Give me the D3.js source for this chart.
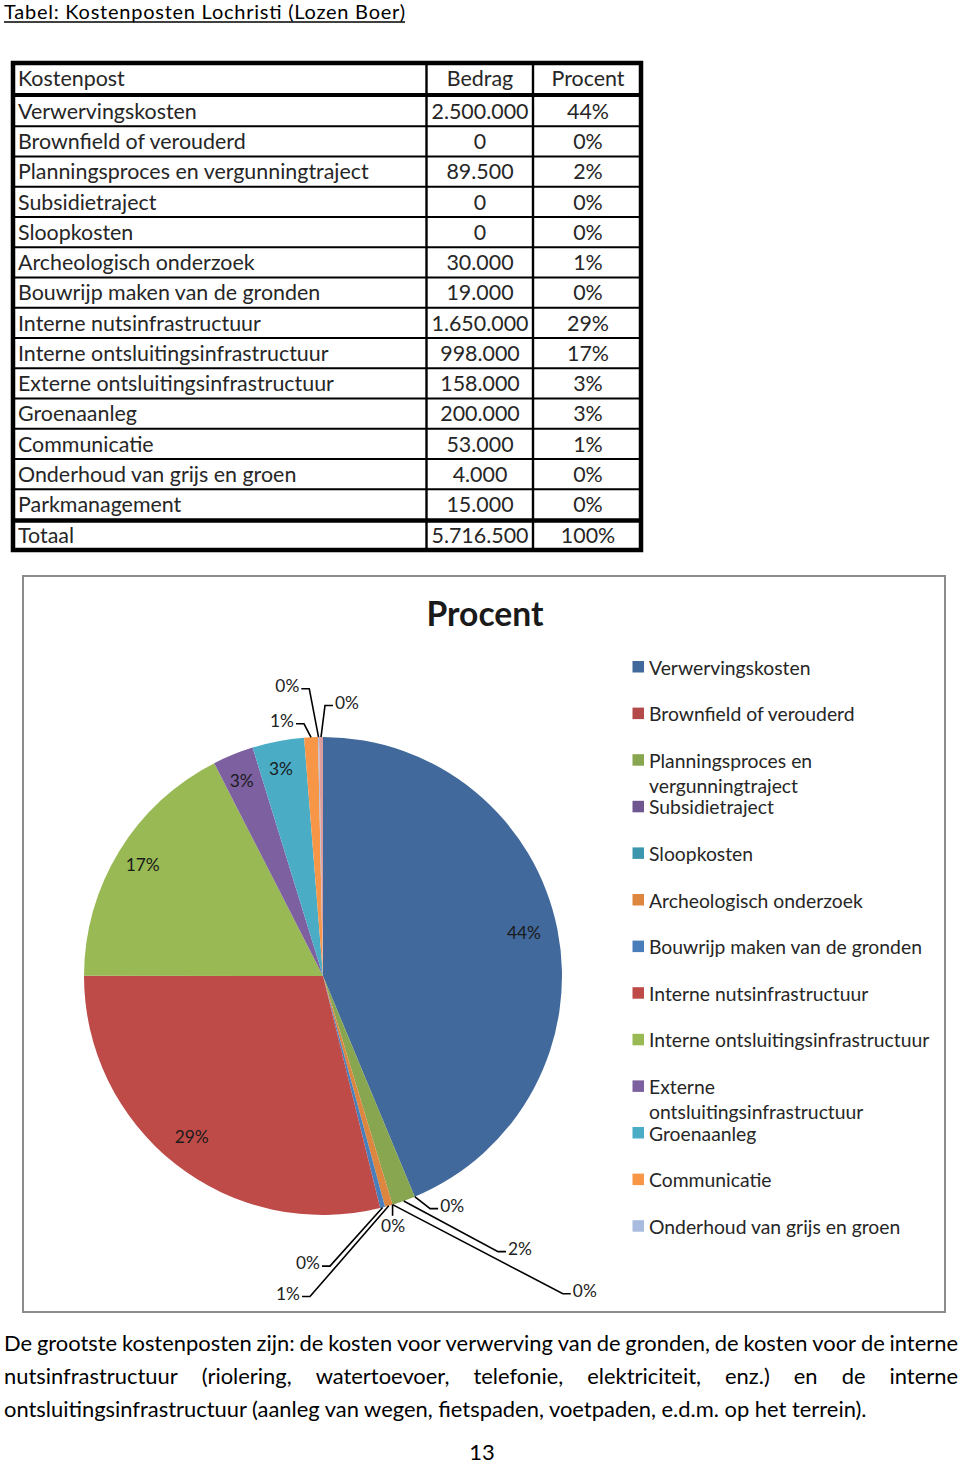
<!DOCTYPE html>
<html><head><meta charset="utf-8">
<script src="https://cdn.jsdelivr.net/npm/d3@7"></script>
<style>body{margin:0;background:#fff}svg{display:block}</style>
</head><body>
<script>
// ---------- DATA ----------
const categories = ["Verwervingskosten","Brownfield of verouderd","Planningsproces en vergunningtraject","Subsidietraject","Sloopkosten","Archeologisch onderzoek","Bouwrijp maken van de gronden","Interne nutsinfrastructuur","Interne ontsluitingsinfrastructuur","Externe ontsluitingsinfrastructuur","Groenaanleg","Communicatie","Onderhoud van grijs en groen","Parkmanagement"];
const bedrag = [2500000,0,89500,0,0,30000,19000,1650000,998000,158000,200000,53000,4000,15000];
const procent = [44,0,2,0,0,1,0,29,17,3,3,1,0,0];
const totaalLabel = "Totaal";
const totaalBedrag = 5716500;
const totaalProcent = 100;
const tableHeaders = ["Kostenpost","Bedrag","Procent"];
const pageTitle = "Tabel: Kostenposten Lochristi (Lozen Boer)";
const chartTitle = "Procent";
const paragraphLines = [
  "De grootste kostenposten zijn: de kosten voor verwerving van de gronden, de kosten voor de interne",
  "nutsinfrastructuur (riolering, watertoevoer, telefonie, elektriciteit, enz.) en de interne",
  "ontsluitingsinfrastructuur (aanleg van wegen, fietspaden, voetpaden, e.d.m. op het terrein)."
];
const pageNumber = "13";

// ---------- STYLE / LAYOUT ----------
const sliceColors = ["#41699b","#b4494a","#88a54f","#6f5690","#3c97ae","#dd8640","#4a7ebb","#be4b48","#98b954","#7d60a0","#4bacc6","#f79646","#a9bbdf","#dc9e9c"];
// outside label placement (polar: degrees clockwise from top, distance from centre)
const outsideLabels = {1:[150.6,263],2:[144.1,336],3:[140.2,409],4:[164.3,259],5:[186.3,319],6:[183.0,287],11:[350.9,259],12:[353.0,293],13:[5.0,275]};
const legendShown = 13;
const FONT = "Lato, 'Open Sans', sans-serif";

const W = 960, H = 1466;
const svg = d3.select("body").append("svg").attr("width", W).attr("height", H)
  .style("font-family", FONT);

function measure(txt, fs, weight) {
  const t = svg.append("text").attr("font-size", fs).attr("font-weight", weight || "normal").text(txt);
  const w = t.node().getComputedTextLength(); t.remove(); return w;
}
function fitSize(txt, target, weight) { return 20 * target / measure(txt, 20, weight); }

// ---------- PAGE TITLE ----------
const tfs = Math.min(20, fitSize(pageTitle, 401));
svg.append("text").attr("x", 4).attr("y", 19).attr("font-size", tfs).attr("fill", "#000")
  .attr("textLength", 401).attr("lengthAdjust", "spacing").text(pageTitle);
svg.append("line").attr("x1", 4).attr("x2", 405).attr("y1", 22).attr("y2", 22).attr("stroke", "#000").attr("stroke-width", 1.3);

// ---------- TABLE ----------
const fmt = d3.formatLocale({decimal: ",", thousands: ".", grouping: [3], currency: ["€",""]}).format(",d");
const rowScale = d3.scaleBand().domain(d3.range(categories.length)).range([96, 519.5]);
const colX = {left: 13, c1: 426.5, c2: 533, right: 641};
const tableFs = fitSize("Planningsproces en vergunningtraject", 351);
const tg = svg.append("g").attr("fill", "#262626").attr("font-size", tableFs);

// grid lines
tg.selectAll("line.row").data(d3.range(1, categories.length)).join("line")
  .attr("x1", colX.left).attr("x2", colX.right)
  .attr("y1", d => rowScale(d)).attr("y2", d => rowScale(d))
  .attr("stroke", "#000").attr("stroke-width", 2.2);
tg.append("line").attr("x1", colX.left).attr("x2", colX.right).attr("y1", 95).attr("y2", 95).attr("stroke", "#000").attr("stroke-width", 4);
tg.append("line").attr("x1", colX.left).attr("x2", colX.right).attr("y1", 520.5).attr("y2", 520.5).attr("stroke", "#000").attr("stroke-width", 4.5);
[colX.c1, colX.c2].forEach(x => tg.append("line").attr("x1", x).attr("x2", x).attr("y1", 63).attr("y2", 550).attr("stroke", "#000").attr("stroke-width", 2.4));
tg.append("rect").attr("x", 13).attr("y", 63).attr("width", 628).attr("height", 487)
  .attr("fill", "none").attr("stroke", "#000").attr("stroke-width", 4.5);

const textDy = tableFs * 0.36;
tg.append("text").attr("x", 18).attr("y", 78 + textDy).text(tableHeaders[0]);
tg.append("text").attr("x", 480).attr("y", 78 + textDy).attr("text-anchor", "middle").text(tableHeaders[1]);
tg.append("text").attr("x", 588).attr("y", 78 + textDy).attr("text-anchor", "middle").text(tableHeaders[2]);
const rows = tg.selectAll("g.r").data(categories.map((c, i) => ({c, b: bedrag[i], p: procent[i], i}))).join("g")
  .attr("transform", d => `translate(0,${rowScale(d.i) + rowScale.bandwidth()/2 + textDy})`);
rows.append("text").attr("x", 18).text(d => d.c);
rows.append("text").attr("x", 480).attr("text-anchor", "middle").text(d => fmt(d.b));
rows.append("text").attr("x", 588).attr("text-anchor", "middle").text(d => d.p + "%");
tg.append("text").attr("x", 18).attr("y", 535 + textDy).text(totaalLabel);
tg.append("text").attr("x", 480).attr("y", 535 + textDy).attr("text-anchor", "middle").text(fmt(totaalBedrag));
tg.append("text").attr("x", 588).attr("y", 535 + textDy).attr("text-anchor", "middle").text(totaalProcent + "%");

// ---------- CHART FRAME ----------
svg.append("rect").attr("x", 23).attr("y", 576).attr("width", 922).attr("height", 736)
  .attr("fill", "#fff").attr("stroke", "#8c8c8c").attr("stroke-width", 2);
const ctfs = fitSize(chartTitle, 117, "bold");
svg.append("text").attr("x", 485).attr("y", 626).attr("text-anchor", "middle").attr("font-weight", "bold")
  .attr("font-size", ctfs).attr("fill", "#1a1a1a").text(chartTitle);

// ---------- PIE ----------
const cx = 323, cy = 976, R = 239;
const data = categories.map((c, i) => ({c, v: bedrag[i], p: procent[i], i}));
const pie = d3.pie().value(d => d.v).sort(null).startAngle(0).endAngle(2 * Math.PI);
const arcs = pie(data);
const arc = d3.arc().innerRadius(0).outerRadius(R);
const color = d3.scaleOrdinal().domain(d3.range(categories.length)).range(sliceColors);
const pg = svg.append("g").attr("transform", `translate(${cx},${cy})`);
pg.selectAll("path").data(arcs).join("path").attr("d", arc).attr("fill", d => color(d.data.i));

const lblFs = fitSize("44%", 34);
const polar = (a, r) => [r * Math.sin(a), -r * Math.cos(a)];
pg.selectAll("text.in").data(arcs.filter(d => !(d.data.i in outsideLabels))).join("text")
  .attr("font-size", lblFs).attr("fill", "#1a1a1a").attr("text-anchor", "middle").attr("dominant-baseline", "central")
  .attr("x", d => polar((d.startAngle + d.endAngle) / 2, R * 0.87)[0] - 3)
  .attr("y", d => polar((d.startAngle + d.endAngle) / 2, R * 0.87)[1] - 3)
  .text(d => d.data.p + "%");
arcs.filter(d => d.data.i in outsideLabels).forEach(d => {
  const [deg, dist] = outsideLabels[d.data.i];
  const [lx, ly] = polar(deg * Math.PI / 180, dist);
  const mid = (d.startAngle + d.endAngle) / 2;
  const [ax, ay] = polar(mid, R);
  const t = pg.append("text").attr("font-size", lblFs).attr("fill", "#222").attr("text-anchor", "middle")
    .attr("dominant-baseline", "central").attr("x", lx).attr("y", ly).text(d.data.p + "%");
  const w = t.node().getComputedTextLength();
  let pts;
  if (lx - ax > 12) { const e = lx - w/2 - 2; pts = [[ax, ay], [e - 8, ly + 3.5], [e, ly + 3.5]]; }
  else if (ax - lx > 12) { const e = lx + w/2 + 2; pts = [[ax, ay], [e + 8, ly + 3.5], [e, ly + 3.5]]; }
  else { pts = [[ax, ay], [ax, ly - lblFs * 0.55]]; }
  pg.append("path").attr("d", d3.line()(pts)).attr("fill", "none").attr("stroke", "#000").attr("stroke-width", 1.6);
});

// ---------- LEGEND ----------
const legFs = fitSize("Bouwrijp maken van de gronden", 273);
const legWrap = measure("Interne ontsluitingsinfrastructuur", legFs) + 2;
const legY = d3.scaleLinear().domain([0, 1]).range([667, 713.6]);
const lg = svg.append("g");
data.slice(0, legendShown).forEach(d => {
  const y = legY(d.i);
  lg.append("rect").attr("x", 632.5).attr("y", y - 6).attr("width", 11.5).attr("height", 11.5).attr("fill", color(d.i));
  const words = d.c.split(" "); const lines = []; let cur = "";
  words.forEach(wd => { const test = cur ? cur + " " + wd : wd;
    if (measure(test, legFs) > legWrap && cur) { lines.push(cur); cur = wd; } else cur = test; });
  lines.push(cur);
  lines.forEach((ln, k) => lg.append("text").attr("x", 649).attr("y", y + k * 25.5).attr("dominant-baseline", "central")
    .attr("font-size", legFs).attr("fill", "#262626").text(ln));
});

// ---------- PARAGRAPH ----------
const pfs = fitSize(paragraphLines[2], 863);
const baseY = [1351, 1384, 1416.5];
paragraphLines.forEach((line, li) => {
  if (li === paragraphLines.length - 1) {
    svg.append("text").attr("x", 4).attr("y", baseY[li]).attr("font-size", pfs).attr("fill", "#000").text(line);
    return;
  }
  const words = line.split(" ");
  const ws = words.map(wd => measure(wd, pfs));
  const gap = (954 - d3.sum(ws)) / (words.length - 1);
  let x = 4;
  words.forEach((wd, k) => {
    svg.append("text").attr("x", x).attr("y", baseY[li]).attr("font-size", pfs).attr("fill", "#000").text(wd);
    x += ws[k] + gap;
  });
});
svg.append("text").attr("x", 482).attr("y", 1460).attr("text-anchor", "middle").attr("font-size", pfs).attr("fill", "#000").text(pageNumber);
</script>
</body></html>
